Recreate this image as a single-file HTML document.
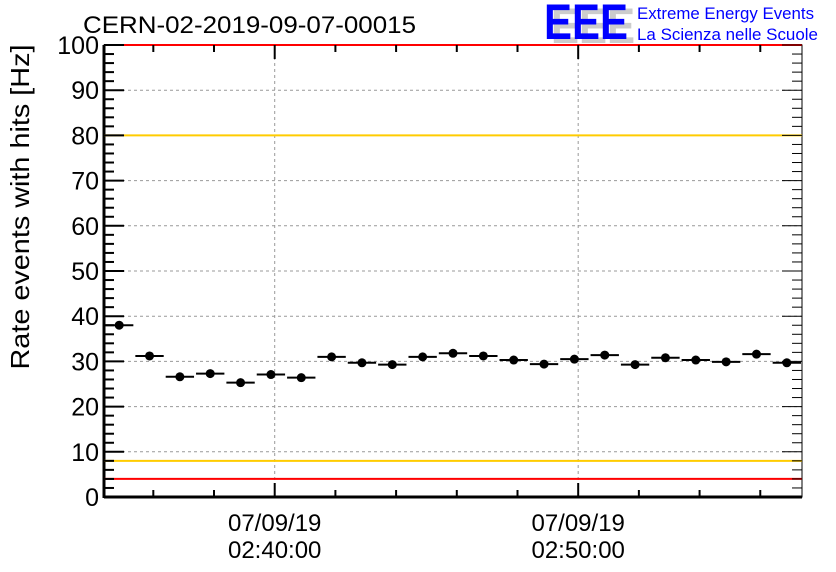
<!DOCTYPE html>
<html><head><meta charset="utf-8"><style>
body{margin:0;background:#fff}
svg{display:block;font-family:"Liberation Sans",sans-serif}
</style></head><body>
<svg id="c" width="836" height="572">
<text x="83" y="33" font-size="24" textLength="333" lengthAdjust="spacingAndGlyphs">CERN-02-2019-09-07-00015</text>
<g>
<text x="551" y="43" font-size="50" font-weight="bold" fill="#ccc" textLength="84" lengthAdjust="spacingAndGlyphs">EEE</text>
<text x="544" y="39" font-size="50" font-weight="bold" fill="#00f" textLength="84" lengthAdjust="spacingAndGlyphs">EEE</text>
<text x="637" y="19" font-size="17" fill="#00f" textLength="177" lengthAdjust="spacingAndGlyphs">Extreme Energy Events</text>
<text x="637" y="40" font-size="17" fill="#00f" textLength="181" lengthAdjust="spacingAndGlyphs">La Scienza nelle Scuole</text>
</g>
<text transform="translate(29,207) rotate(-90)" text-anchor="middle" font-size="26" textLength="325" lengthAdjust="spacingAndGlyphs">Rate events with hits [Hz]</text>
<g id="plot"></g>
</svg>
<script>
const rates=[38,31.2,26.6,27.3,25.3,27.1,26.4,31,29.7,29.3,31,31.8,31.2,30.3,29.4,30.5,31.4,29.3,30.8,30.3,29.9,31.6,29.7];
const yTicks=[0,10,20,30,40,50,60,70,80,90,100];
const xMajorMinutes=[40,50];
const xMajorLabels=["07/09/19\n02:40:00","07/09/19\n02:50:00"];
const redLimits=[100,4];
const yellowLimits=[80,8];
const startMin=34.375, binMin=1;
const L=104,R=802,T=45,B=497;
const nBins=rates.length;
const endMin=startMin+nBins*binMin;
const X=m=>L+(m-startMin)/(endMin-startMin)*(R-L);
const Y=v=>B-v/100*(B-T);
const NS="http://www.w3.org/2000/svg";
const g=document.getElementById('plot');
function mk(t,a,p){const e=document.createElementNS(NS,t);for(const k in a)e.setAttribute(k,a[k]);(p||g).appendChild(e);return e;}
yTicks.forEach(v=>{if(v>0&&v<100){const l=mk('line',{x1:L,x2:R,y1:Y(v),y2:Y(v),stroke:'#999','stroke-dasharray':'3,3','stroke-width':1});

}});
xMajorMinutes.forEach(m=>{const l=mk('line',{x1:X(m),x2:X(m),y1:T,y2:B,stroke:'#999','stroke-dasharray':'3,3','stroke-width':1});

});
const fr=mk('rect',{x:L,y:T,width:R-L,height:B-T,fill:'none',stroke:'#000','stroke-width':1});


mk('line',{x1:L,x2:L,y1:T,y2:B+1,stroke:'#000','stroke-width':3});
mk('line',{x1:L,x2:R,y1:B,y2:B,stroke:'#000','stroke-width':3});
redLimits.forEach(v=>{const l=mk('line',{x1:L,x2:R,y1:Y(v),y2:Y(v),stroke:'#f00','stroke-width':2});

});
yellowLimits.forEach(v=>{const l=mk('line',{x1:L,x2:R,y1:Y(v),y2:Y(v),stroke:'#fc0','stroke-width':2});

});
for(let v=0;v<=100;v+=2){const maj=v%10===0;const len=maj?20:10;
mk('line',{x1:L,x2:L+len,y1:Y(v),y2:Y(v),stroke:'#000','stroke-width':2});
mk('line',{x1:R,x2:R-len,y1:Y(v),y2:Y(v),stroke:'#000','stroke-width':1});}
yTicks.forEach(v=>{const t=mk('text',{x:L-5,y:Y(v)+9,'text-anchor':'end','font-size':25});t.textContent=v;

});
for(let m=36;m<endMin;m+=2){const maj=m%10===0;const len=maj?14:7;
mk('line',{x1:X(m),x2:X(m),y1:B,y2:B-len,stroke:'#000','stroke-width':2});
mk('line',{x1:X(m),x2:X(m),y1:T,y2:T+len,stroke:'#000','stroke-width':2});}
xMajorMinutes.forEach((m,i)=>{const [a,b]=xMajorLabels[i].split("\n");
const t=mk('text',{x:X(m),y:531,'text-anchor':'middle','font-size':24});t.textContent=a;


const t2=mk('text',{x:X(m),y:558,'text-anchor':'middle','font-size':24});t2.textContent=b;

});
rates.forEach((v,i)=>{const x0=X(startMin+i*binMin),x1=X(startMin+(i+1)*binMin);
const l=mk('line',{x1:x0+1,x2:x1-1,y1:Y(v),y2:Y(v),stroke:'#000','stroke-width':2});


const c=mk('circle',{cx:(x0+x1)/2,cy:Y(v),r:4.5,fill:'#000'});

});
</script>
</body></html>
